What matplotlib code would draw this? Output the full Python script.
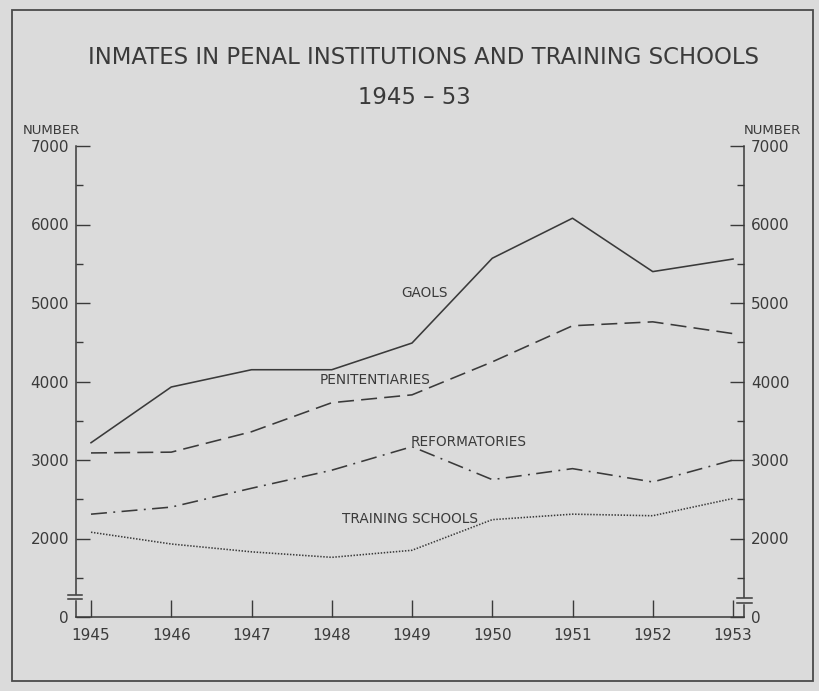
import matplotlib
matplotlib.use("Agg")
import matplotlib.pyplot as plt
from matplotlib.lines import Line2D
from matplotlib.patches import Rectangle

years = [1945, 1946, 1947, 1948, 1949, 1950, 1951, 1952, 1953]
gaols = [3220, 3930, 4150, 4150, 4490, 5570, 6080, 5400, 5560]
penitentiaries = [3090, 3100, 3360, 3730, 3830, 4250, 4710, 4760, 4610]
reformatories = [2310, 2400, 2640, 2870, 3170, 2750, 2890, 2720, 3000]
training_schools = [2080, 1930, 1830, 1760, 1850, 2240, 2310, 2290, 2510]

ytick_vals = [1000, 2000, 3000, 4000, 5000, 6000, 7000]
ytick_labels = ["0", "2000", "3000", "4000", "5000", "6000", "7000"]
yminor_vals = [1500, 2500, 3500, 4500, 5500, 6500]

BG = "#dbdbdb"
INK = "#3a3a3a"
FONT = ["DejaVu Sans"]

plt.rcParams['font.family'] = FONT

fig = plt.figure(figsize=(8.19, 6.91), dpi=100, facecolor=BG)
W, H = 819, 691
ax = fig.add_axes([76 / W, 1 - 617 / H, (744 - 76) / W, (617 - 146) / H])
ax.set_facecolor(BG)

lw = 1.15
ax.plot(years, gaols, color=INK, lw=lw, ls='-')
ax.plot(years, penitentiaries, color=INK, lw=lw, ls=(0, (10, 4.5)))
ax.plot(years, reformatories, color=INK, lw=lw, ls=(0, (10, 4, 1.2, 4)))
ax.plot(years, training_schools, color=INK, lw=lw, ls=(0, (0.9, 1.0)))

ax.set_xlim(1944.813, 1953.137)
ax.set_ylim(1000, 7000)

ax.set_xticks(years)
ax.set_xticklabels([str(y) for y in years])
ax.set_yticks(ytick_vals)
ax.set_yticklabels(ytick_labels)
ax.set_yticks(yminor_vals, minor=True)

for s in ['left', 'right', 'bottom']:
    ax.spines[s].set_color(INK)
    ax.spines[s].set_linewidth(1.1)
ax.spines['top'].set_visible(False)

ax.tick_params(axis='y', which='major', direction='in', length=10, width=1.0,
               color=INK, labelcolor=INK, labelsize=11, left=True, right=True,
               labelleft=True, labelright=True, pad=5)
ax.tick_params(axis='y', which='minor', direction='in', length=5, width=1.0,
               color=INK, left=True, right=True)
ax.tick_params(axis='x', which='major', direction='in', length=12, width=1.0,
               color=INK, labelcolor=INK, labelsize=11, pad=8)

# axis break marks
for (x0, x1, ya, yb) in [(-0.012, 0.009, 0.0467, 0.0382), (0.9895, 1.012, 0.0403, 0.0297)]:
    xs = 0.0 if x0 < 0 else 1.0
    ax.add_line(Line2D([xs, xs], [yb + 0.002, ya - 0.002], color=BG, lw=2.5,
                       transform=ax.transAxes, clip_on=False, zorder=6))
    for yy in (ya, yb):
        ax.add_line(Line2D([x0, x1], [yy, yy], color=INK, lw=1.1,
                           transform=ax.transAxes, clip_on=False, zorder=7))

# series labels
lab_kw = dict(color=INK, fontsize=9.8, ha='center', va='center')
ax.text(1949.16, 5127, "GAOLS", **lab_kw)
ax.text(1948.54, 4019, "PENITENTIARIES", **lab_kw)
ax.text(1949.70, 3229, "REFORMATORIES", **lab_kw)
ax.text(1948.98, 2248, "TRAINING SCHOOLS", **lab_kw)

# titles
fig.text(423 / W, 1 - 58 / H, "INMATES IN PENAL INSTITUTIONS AND TRAINING SCHOOLS",
         ha='center', va='center', fontsize=16.4, color=INK)
fig.text(414 / W, 1 - 97 / H, "1945 \u2013 53", ha='center', va='center',
         fontsize=16.4, color=INK)
fig.text(51 / W, 1 - 131 / H, "NUMBER", ha='center', va='center', fontsize=9.5, color=INK)
fig.text(772 / W, 1 - 131 / H, "NUMBER", ha='center', va='center', fontsize=9.5, color=INK)

# outer frame
fig.patches.append(Rectangle((12 / W, 1 - 681 / H), (813 - 12) / W, (681 - 10) / H,
                             transform=fig.transFigure, fill=False, edgecolor="#4a4a4a",
                             lw=1.3))

fig.savefig("out.png", dpi=100, facecolor=BG)
